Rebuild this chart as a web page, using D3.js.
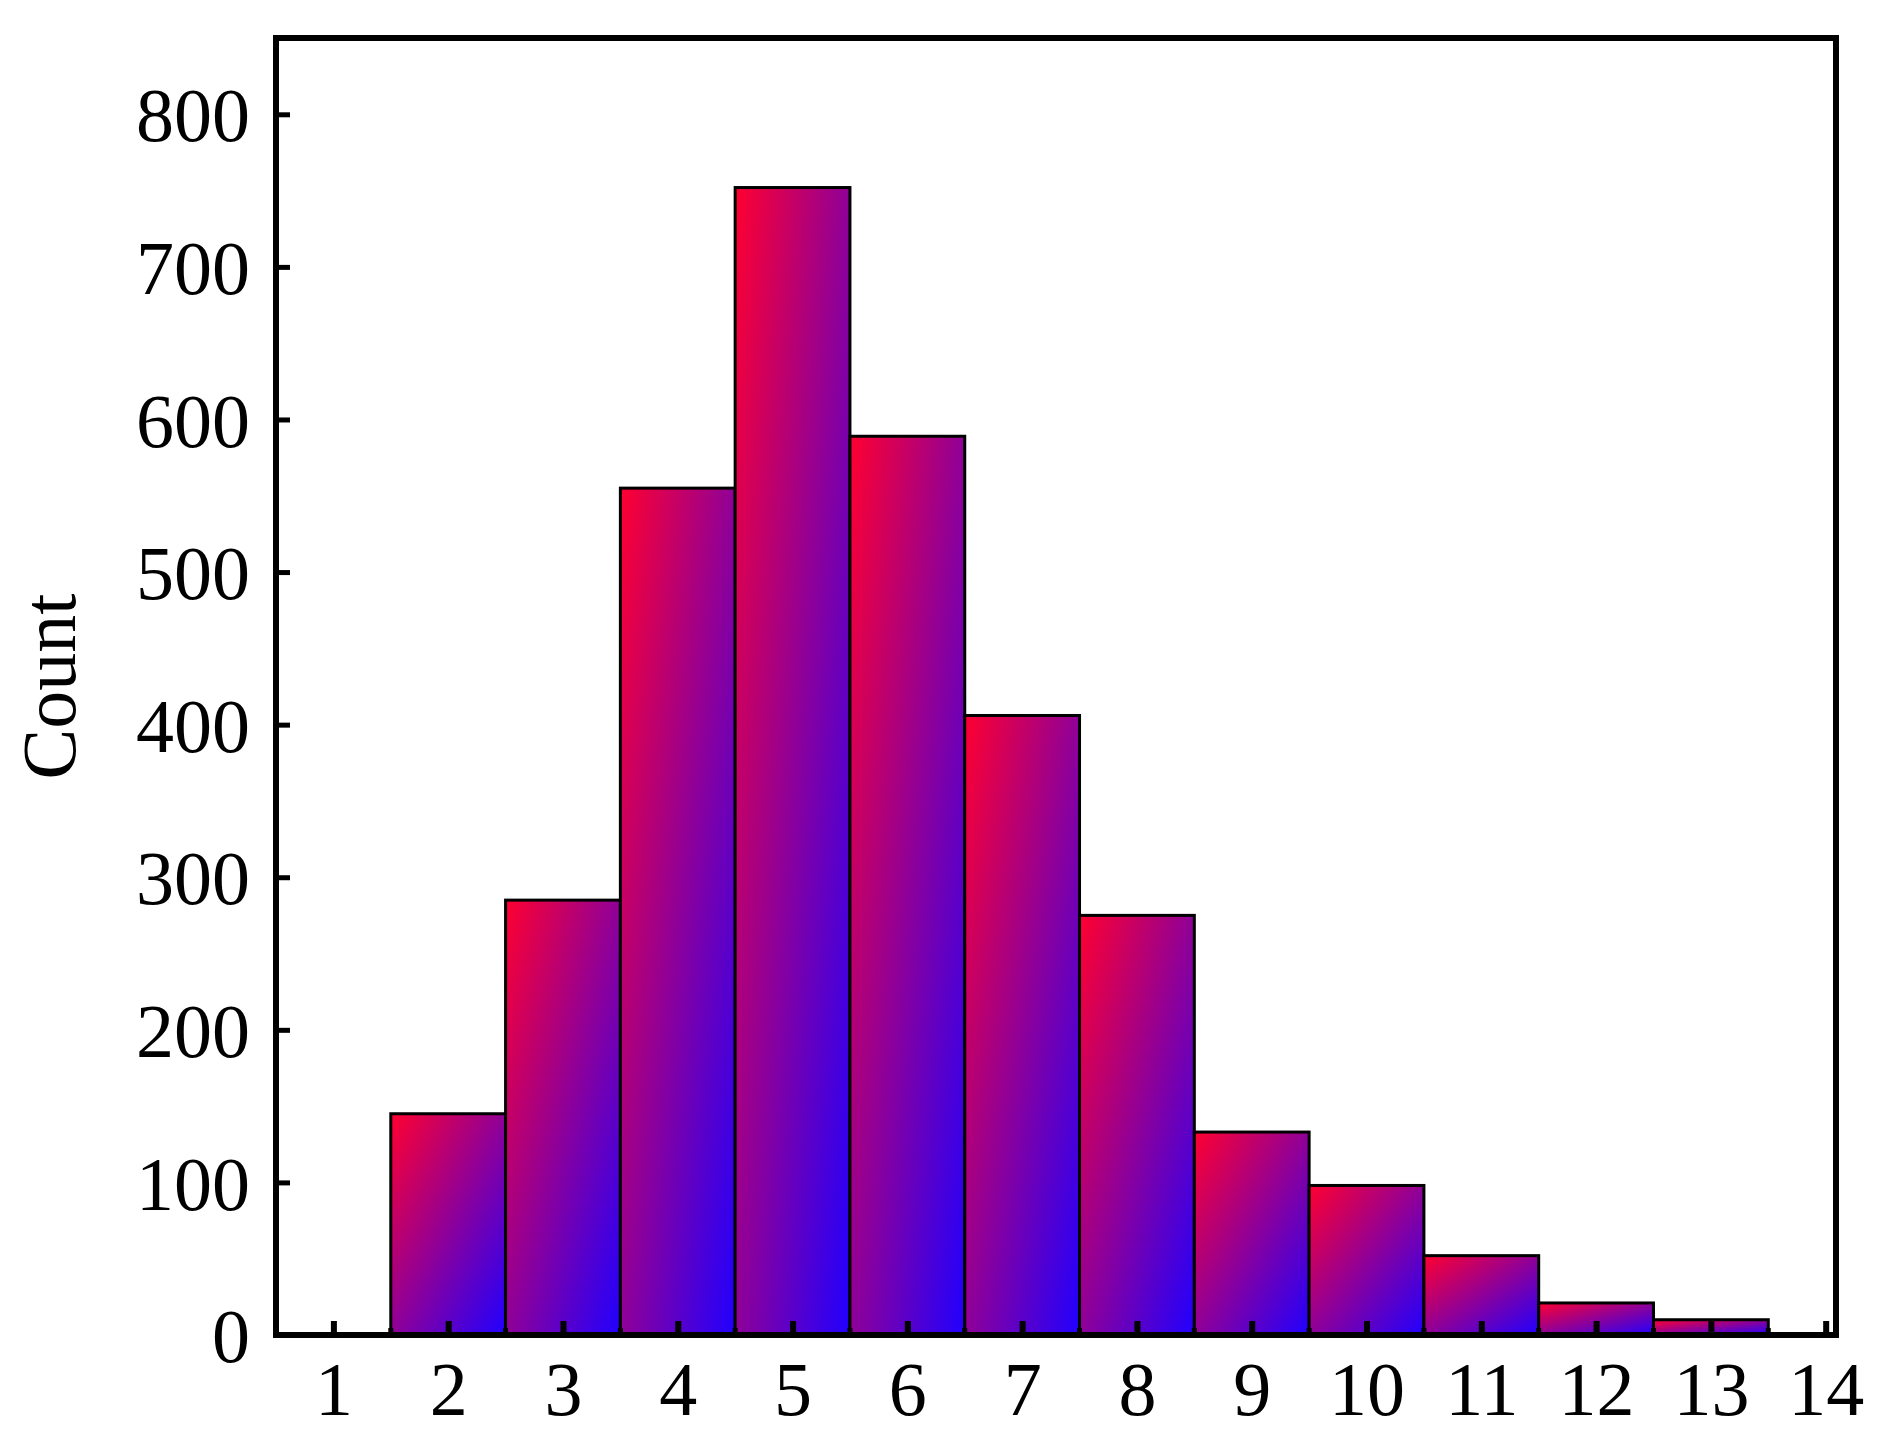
<!DOCTYPE html>
<html>
<head>
<meta charset="utf-8">
<script src="https://cdn.jsdelivr.net/npm/d3@7"></script>
<style>
  body { margin: 0; background: #fff; }
  text { font-family: "Liberation Serif", "DejaVu Serif", serif; fill: #000; }
</style>
</head>
<body>
<svg id="chart" width="1902" height="1440"></svg>
<script>
// histogram data
const bins = [2, 3, 4, 5, 6, 7, 8, 9, 10, 11, 12, 13];
const counts = [145, 285, 555, 752, 589, 406, 275, 133, 98, 52, 21, 10];
const xTicks = [1, 2, 3, 4, 5, 6, 7, 8, 9, 10, 11, 12, 13, 14];
const yTicks = [0, 100, 200, 300, 400, 500, 600, 700, 800];

const margin = {top: 38, right: 66, bottom: 105, left: 276};
const width = 1902 - margin.left - margin.right,
    height = 1440 - margin.top - margin.bottom;

const svg = d3.select('#chart');
const defs = svg.append('defs');
const grad = defs.append('linearGradient')
    .attr('id', 'barGrad')
    .attr('x1', 0).attr('y1', 0).attr('x2', 1).attr('y2', 1);
grad.append('stop').attr('offset', '0%').attr('stop-color', '#ff0030');
grad.append('stop').attr('offset', '100%').attr('stop-color', '#2000ff');

const g = svg.append('g').attr('transform', `translate(${margin.left},${margin.top})`);

const x = d3.scaleLinear().domain([0.5, 14.09]).range([0, width]);
const y = d3.scaleLinear().domain([0, 850]).range([height, 0]);

// bars
g.selectAll('rect.bar')
    .data(bins)
    .enter()
    .append('rect')
    .attr('class', 'bar')
    .attr('x', d => x(d - 0.5))
    .attr('y', (d, i) => y(counts[i]))
    .attr('width', x(1) - x(0))
    .attr('height', (d, i) => height - y(counts[i]))
    .attr('fill', 'url(#barGrad)')
    .attr('stroke', '#000')
    .attr('stroke-width', 3);

// x axis, inward ticks
const xAxis = g.append('g')
    .attr('transform', `translate(0,${height})`)
    .call(d3.axisBottom(x).tickValues(xTicks).tickSize(-14).tickPadding(26).tickFormat(d3.format('d')));
xAxis.selectAll('text').attr('font-size', 76).attr('dy', '0.71em');
xAxis.selectAll('.tick line').attr('stroke-width', 6);
xAxis.select('.domain').remove();

// minor ticks between majors
g.append('g').selectAll('line')
    .data(xTicks.slice(0, -1).map(d => d + 0.5))
    .enter().append('line')
    .attr('x1', d => x(d)).attr('x2', d => x(d))
    .attr('y1', height).attr('y2', height - 7)
    .attr('stroke', '#000').attr('stroke-width', 5);

// y axis
const yAxis = g.append('g')
    .call(d3.axisLeft(y).tickValues(yTicks).tickSize(-14).tickPadding(26));
yAxis.selectAll('text').attr('font-size', 76).attr('dy', '0.35em');
yAxis.selectAll('.tick line').attr('stroke-width', 5);
yAxis.select('.domain').remove();

// frame
g.append('rect')
    .attr('width', width).attr('height', height)
    .attr('fill', 'none').attr('stroke', '#000').attr('stroke-width', 6);

// y label
svg.append('text')
    .attr('transform', `translate(75,${margin.top + height / 2}) rotate(-90)`)
    .attr('text-anchor', 'middle')
    .attr('font-size', 76)
    .text('Count');
</script>
</body>
</html>
